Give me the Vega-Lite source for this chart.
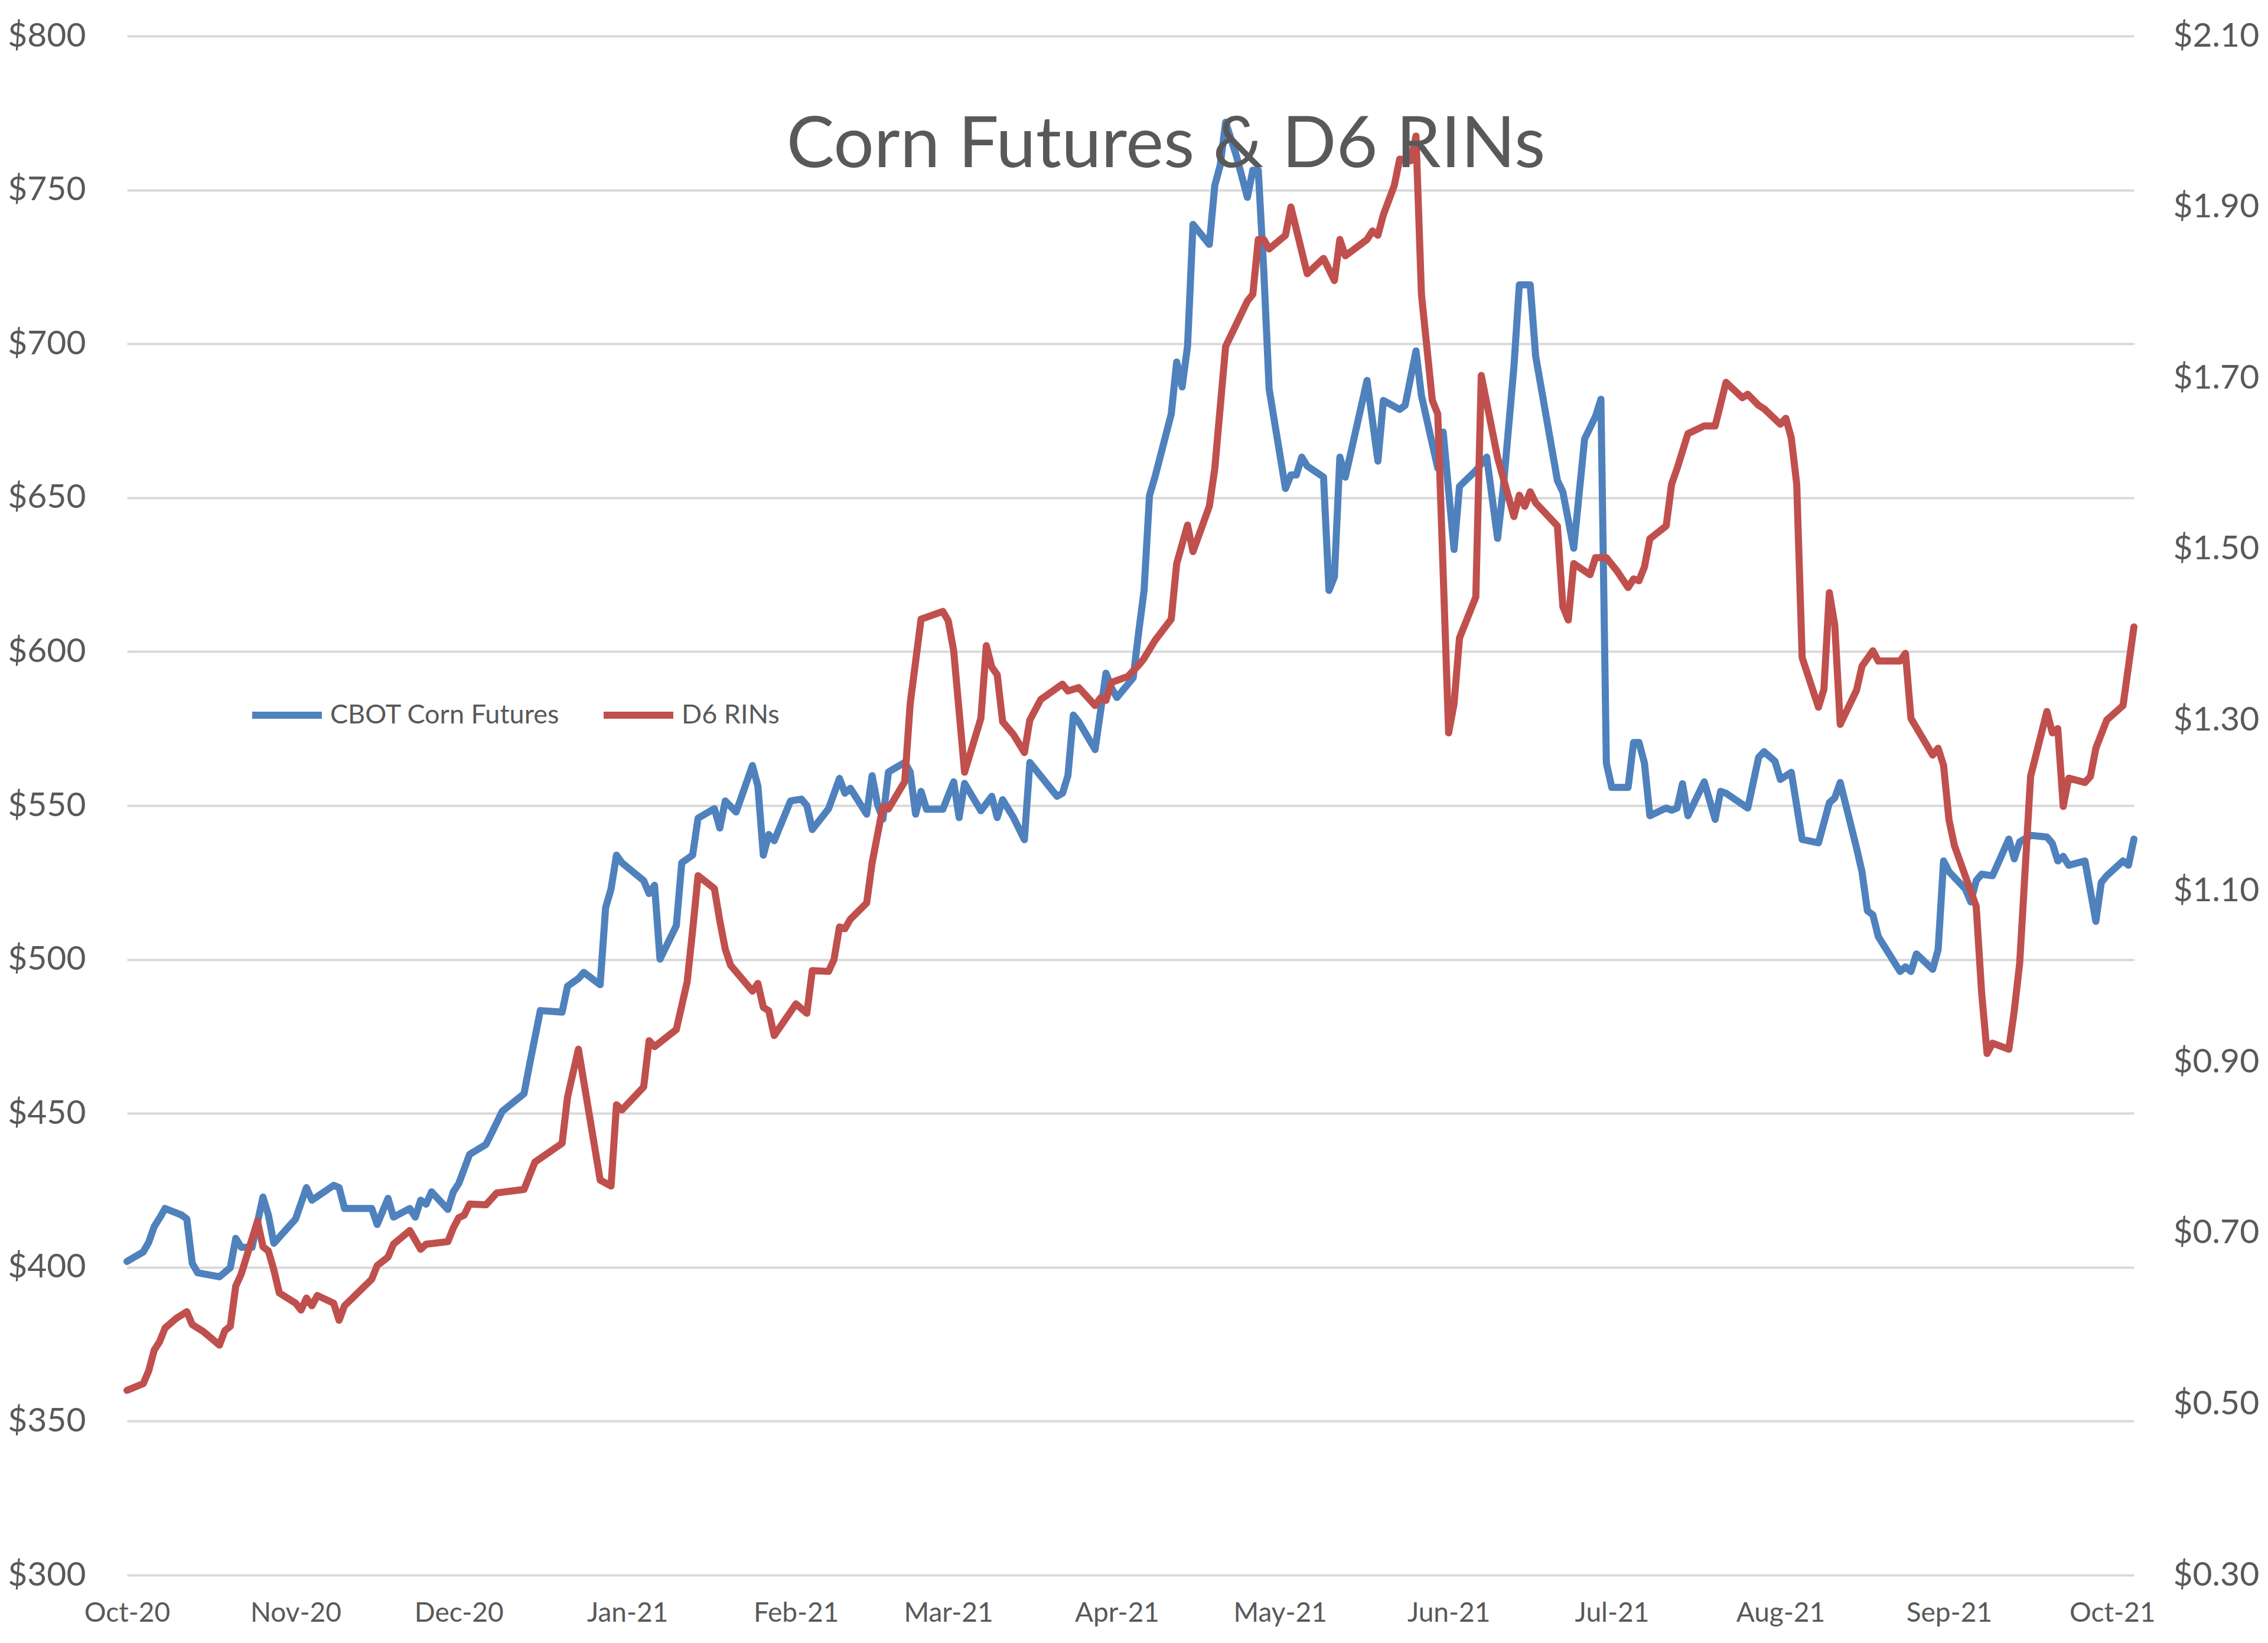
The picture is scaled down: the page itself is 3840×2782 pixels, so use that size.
{
"$schema": "https://vega.github.io/schema/vega-lite/v6.json",
"width": 3398, "height": 2606,
"autosize": {"type": "none"},
"padding": {"left": 215, "top": 61, "right": 227, "bottom": 115},
"background": "white",
"config": {"view": {"stroke": null}, "font": "Lato"},
"title": {"text": "Corn Futures & D6 RINs", "font": "Lato", "fontSize": 121, "fontWeight": "normal", "color": "#595959", "anchor": "middle", "frame": "group", "baseline": "alphabetic", "offset": -372, "dx": 60},
"datasets": {
"corn": [
{"date":"2020-10-01","price":401.9},{"date":"2020-10-04","price":405},{"date":"2020-10-05","price":408.1},{"date":"2020-10-06","price":413.2},{"date":"2020-10-07","price":416},{"date":"2020-10-08","price":419.1},{"date":"2020-10-11","price":417},{"date":"2020-10-12","price":415.7},{"date":"2020-10-13","price":401.3},{"date":"2020-10-14","price":398.2},{"date":"2020-10-18","price":396.9},{"date":"2020-10-20","price":399.9},{"date":"2020-10-21","price":409.4},{"date":"2020-10-22","price":406.5},{"date":"2020-10-24","price":406.5},{"date":"2020-10-26","price":422.8},{"date":"2020-10-27","price":417},{"date":"2020-10-28","price":407.8},
{"date":"2020-11-01","price":415.7},{"date":"2020-11-03","price":425.9},{"date":"2020-11-04","price":421.8},{"date":"2020-11-08","price":426.6},{"date":"2020-11-09","price":425.9},{"date":"2020-11-10","price":419.1},{"date":"2020-11-15","price":419.1},{"date":"2020-11-16","price":413.9},{"date":"2020-11-18","price":422.4},{"date":"2020-11-19","price":416.3},{"date":"2020-11-22","price":419.1},{"date":"2020-11-23","price":416.3},{"date":"2020-11-24","price":421.8},{"date":"2020-11-25","price":420.5},{"date":"2020-11-26","price":424.5},{"date":"2020-11-29","price":418.8},{"date":"2020-11-30","price":424.5},
{"date":"2020-12-01","price":427.2},{"date":"2020-12-03","price":436.7},{"date":"2020-12-06","price":439.9},{"date":"2020-12-07","price":443.4},{"date":"2020-12-09","price":450.7},{"date":"2020-12-13","price":456.4},{"date":"2020-12-14","price":465.7},{"date":"2020-12-16","price":483.4},{"date":"2020-12-20","price":482.9},{"date":"2020-12-21","price":491.3},{"date":"2020-12-23","price":493.8},{"date":"2020-12-24","price":495.8},{"date":"2020-12-27","price":491.8},{"date":"2020-12-28","price":516.8},{"date":"2020-12-29","price":522.9},{"date":"2020-12-30","price":533.9},{"date":"2020-12-31","price":531.4},
{"date":"2021-01-04","price":525.6},{"date":"2021-01-05","price":521.4},{"date":"2021-01-06","price":524.1},{"date":"2021-01-07","price":500.1},{"date":"2021-01-10","price":511},{"date":"2021-01-11","price":531.4},{"date":"2021-01-13","price":533.9},{"date":"2021-01-14","price":545.9},{"date":"2021-01-17","price":549},{"date":"2021-01-18","price":542.7},{"date":"2021-01-19","price":551.5},{"date":"2021-01-21","price":547.9},{"date":"2021-01-24","price":563},{"date":"2021-01-25","price":556.3},{"date":"2021-01-26","price":533.9},{"date":"2021-01-27","price":540.6},{"date":"2021-01-28","price":538.6},{"date":"2021-01-31","price":551.5},
{"date":"2021-02-02","price":552.1},{"date":"2021-02-03","price":550},{"date":"2021-02-04","price":542.2},{"date":"2021-02-07","price":549},{"date":"2021-02-09","price":558.8},{"date":"2021-02-10","price":554},{"date":"2021-02-11","price":555.6},{"date":"2021-02-14","price":547.2},{"date":"2021-02-15","price":559.7},{"date":"2021-02-16","price":550.3},{"date":"2021-02-17","price":545.6},{"date":"2021-02-18","price":560.9},{"date":"2021-02-21","price":564},{"date":"2021-02-22","price":560.9},{"date":"2021-02-23","price":547.2},{"date":"2021-02-24","price":554.6},{"date":"2021-02-25","price":548.8},{"date":"2021-02-28","price":548.8},
{"date":"2021-03-02","price":557.7},{"date":"2021-03-03","price":546.1},{"date":"2021-03-04","price":557.2},{"date":"2021-03-07","price":548.3},{"date":"2021-03-09","price":553},{"date":"2021-03-10","price":546.1},{"date":"2021-03-11","price":551.9},{"date":"2021-03-13","price":546.1},{"date":"2021-03-15","price":538.9},{"date":"2021-03-16","price":564},{"date":"2021-03-21","price":553},{"date":"2021-03-22","price":554},{"date":"2021-03-23","price":559.7},{"date":"2021-03-24","price":579.4},{"date":"2021-03-25","price":577.2},{"date":"2021-03-28","price":568.2},{"date":"2021-03-30","price":593},{"date":"2021-03-31","price":588.3},
{"date":"2021-04-01","price":585.1},{"date":"2021-04-04","price":591.5},{"date":"2021-04-05","price":606.2},{"date":"2021-04-06","price":619.8},{"date":"2021-04-07","price":650.7},{"date":"2021-04-08","price":656.7},{"date":"2021-04-11","price":677.2},{"date":"2021-04-12","price":694.1},{"date":"2021-04-13","price":686},{"date":"2021-04-14","price":699.3},{"date":"2021-04-15","price":738.8},{"date":"2021-04-18","price":732.3},{"date":"2021-04-19","price":751.4},{"date":"2021-04-20","price":758},{"date":"2021-04-21","price":772},{"date":"2021-04-23","price":760.9},{"date":"2021-04-25","price":747.6},{"date":"2021-04-26","price":756.4},{"date":"2021-04-27","price":756.4},{"date":"2021-04-28","price":724.2},{"date":"2021-04-29","price":685.3},
{"date":"2021-05-02","price":653},{"date":"2021-05-03","price":657.4},{"date":"2021-05-04","price":657.4},{"date":"2021-05-05","price":663.2},{"date":"2021-05-06","price":660.3},{"date":"2021-05-09","price":656.7},{"date":"2021-05-10","price":619.9},{"date":"2021-05-11","price":624.3},{"date":"2021-05-12","price":663.2},{"date":"2021-05-13","price":656.7},{"date":"2021-05-17","price":688.1},{"date":"2021-05-19","price":661.9},{"date":"2021-05-20","price":681.6},{"date":"2021-05-23","price":678.7},{"date":"2021-05-24","price":680},{"date":"2021-05-26","price":697.7},{"date":"2021-05-27","price":683.2},{"date":"2021-05-30","price":659.6},{"date":"2021-05-31","price":671.3},
{"date":"2021-06-02","price":633.2},{"date":"2021-06-03","price":653.7},{"date":"2021-06-06","price":658.8},{"date":"2021-06-08","price":663.2},{"date":"2021-06-10","price":636.8},{"date":"2021-06-11","price":652.3},{"date":"2021-06-13","price":692.4},{"date":"2021-06-14","price":719.2},{"date":"2021-06-16","price":719.2},{"date":"2021-06-17","price":696},{"date":"2021-06-21","price":655.6},{"date":"2021-06-22","price":651.9},{"date":"2021-06-24","price":633.6},{"date":"2021-06-26","price":669.1},{"date":"2021-06-28","price":676.4},{"date":"2021-06-29","price":682},{"date":"2021-06-30","price":563.8},
{"date":"2021-07-01","price":555.9},{"date":"2021-07-04","price":555.9},{"date":"2021-07-05","price":570.5},{"date":"2021-07-06","price":570.5},{"date":"2021-07-07","price":563.8},{"date":"2021-07-08","price":546.7},{"date":"2021-07-11","price":549.2},{"date":"2021-07-12","price":548.5},{"date":"2021-07-13","price":549.2},{"date":"2021-07-14","price":557.1},{"date":"2021-07-15","price":546.7},{"date":"2021-07-18","price":557.7},{"date":"2021-07-20","price":545.5},{"date":"2021-07-21","price":554.6},{"date":"2021-07-22","price":554},{"date":"2021-07-26","price":549.2},{"date":"2021-07-28","price":565.7},{"date":"2021-07-29","price":567.5},{"date":"2021-07-31","price":564.4},
{"date":"2021-08-01","price":558.5},{"date":"2021-08-03","price":560.8},{"date":"2021-08-05","price":539},{"date":"2021-08-08","price":537.9},{"date":"2021-08-10","price":550.9},{"date":"2021-08-11","price":552.5},{"date":"2021-08-12","price":557.5},{"date":"2021-08-15","price":536.2},{"date":"2021-08-16","price":528.5},{"date":"2021-08-17","price":515.8},{"date":"2021-08-18","price":514.5},{"date":"2021-08-19","price":507.4},{"date":"2021-08-23","price":496.1},{"date":"2021-08-24","price":497.6},{"date":"2021-08-25","price":496.1},{"date":"2021-08-26","price":501.8},{"date":"2021-08-29","price":496.8},{"date":"2021-08-30","price":503.2},{"date":"2021-08-31","price":532},
{"date":"2021-09-01","price":528.5},{"date":"2021-09-04","price":522.9},{"date":"2021-09-05","price":518.7},{"date":"2021-09-06","price":525.6},{"date":"2021-09-07","price":527.7},{"date":"2021-09-09","price":527.2},{"date":"2021-09-12","price":539.1},{"date":"2021-09-13","price":532.7},{"date":"2021-09-14","price":538.2},{"date":"2021-09-16","price":540.3},{"date":"2021-09-19","price":539.8},{"date":"2021-09-20","price":537.7},{"date":"2021-09-21","price":532},{"date":"2021-09-22","price":533.5},{"date":"2021-09-23","price":530.6},{"date":"2021-09-26","price":532},{"date":"2021-09-28","price":512.4},{"date":"2021-09-29","price":525},{"date":"2021-09-30","price":527.2},
{"date":"2021-10-03","price":532},{"date":"2021-10-04","price":530.6},{"date":"2021-10-05","price":539.1}
],
"rins": [
{"date":"2020-10-01","price":0.516},{"date":"2020-10-04","price":0.524},{"date":"2020-10-05","price":0.539},{"date":"2020-10-06","price":0.563},{"date":"2020-10-07","price":0.573},{"date":"2020-10-08","price":0.589},{"date":"2020-10-10","price":0.6},{"date":"2020-10-12","price":0.608},{"date":"2020-10-13","price":0.593},{"date":"2020-10-15","price":0.585},{"date":"2020-10-18","price":0.569},{"date":"2020-10-19","price":0.586},{"date":"2020-10-20","price":0.591},{"date":"2020-10-21","price":0.638},{"date":"2020-10-22","price":0.652},{"date":"2020-10-25","price":0.714},{"date":"2020-10-26","price":0.684},{"date":"2020-10-27","price":0.679},{"date":"2020-10-28","price":0.657},{"date":"2020-10-29","price":0.63},
{"date":"2020-11-01","price":0.618},{"date":"2020-11-02","price":0.61},{"date":"2020-11-03","price":0.624},{"date":"2020-11-04","price":0.615},{"date":"2020-11-05","price":0.627},{"date":"2020-11-08","price":0.618},{"date":"2020-11-09","price":0.598},{"date":"2020-11-10","price":0.615},{"date":"2020-11-15","price":0.646},{"date":"2020-11-16","price":0.662},{"date":"2020-11-17","price":0.667},{"date":"2020-11-18","price":0.672},{"date":"2020-11-19","price":0.687},{"date":"2020-11-22","price":0.703},{"date":"2020-11-24","price":0.681},{"date":"2020-11-25","price":0.687},{"date":"2020-11-29","price":0.69},{"date":"2020-11-30","price":0.706},
{"date":"2020-12-01","price":0.718},{"date":"2020-12-02","price":0.721},{"date":"2020-12-03","price":0.734},{"date":"2020-12-06","price":0.733},{"date":"2020-12-08","price":0.747},{"date":"2020-12-13","price":0.751},{"date":"2020-12-15","price":0.783},{"date":"2020-12-20","price":0.805},{"date":"2020-12-21","price":0.859},{"date":"2020-12-23","price":0.915},{"date":"2020-12-27","price":0.762},{"date":"2020-12-29","price":0.755},{"date":"2020-12-30","price":0.85},{"date":"2020-12-31","price":0.844},
{"date":"2021-01-04","price":0.871},{"date":"2021-01-05","price":0.925},{"date":"2021-01-06","price":0.918},{"date":"2021-01-10","price":0.938},{"date":"2021-01-12","price":0.994},{"date":"2021-01-13","price":1.054},{"date":"2021-01-14","price":1.118},{"date":"2021-01-17","price":1.103},{"date":"2021-01-18","price":1.065},{"date":"2021-01-19","price":1.032},{"date":"2021-01-20","price":1.013},{"date":"2021-01-24","price":0.983},{"date":"2021-01-25","price":0.992},{"date":"2021-01-26","price":0.964},{"date":"2021-01-27","price":0.96},{"date":"2021-01-28","price":0.931},
{"date":"2021-02-01","price":0.968},{"date":"2021-02-03","price":0.957},{"date":"2021-02-04","price":1.007},{"date":"2021-02-07","price":1.006},{"date":"2021-02-08","price":1.02},{"date":"2021-02-09","price":1.058},{"date":"2021-02-10","price":1.056},{"date":"2021-02-11","price":1.067},{"date":"2021-02-14","price":1.086},{"date":"2021-02-15","price":1.133},{"date":"2021-02-17","price":1.199},{"date":"2021-02-18","price":1.196},{"date":"2021-02-21","price":1.228},{"date":"2021-02-22","price":1.319},{"date":"2021-02-24","price":1.418},{"date":"2021-02-28","price":1.427},
{"date":"2021-03-01","price":1.416},{"date":"2021-03-02","price":1.381},{"date":"2021-03-04","price":1.239},{"date":"2021-03-07","price":1.302},{"date":"2021-03-08","price":1.387},{"date":"2021-03-09","price":1.362},{"date":"2021-03-10","price":1.353},{"date":"2021-03-11","price":1.298},{"date":"2021-03-13","price":1.283},{"date":"2021-03-15","price":1.262},{"date":"2021-03-16","price":1.3},{"date":"2021-03-18","price":1.324},{"date":"2021-03-22","price":1.342},{"date":"2021-03-23","price":1.334},{"date":"2021-03-25","price":1.338},{"date":"2021-03-28","price":1.317},{"date":"2021-03-29","price":1.326},{"date":"2021-03-30","price":1.323},{"date":"2021-03-31","price":1.344},
{"date":"2021-04-03","price":1.351},{"date":"2021-04-05","price":1.364},{"date":"2021-04-06","price":1.372},{"date":"2021-04-08","price":1.393},{"date":"2021-04-11","price":1.418},{"date":"2021-04-12","price":1.483},{"date":"2021-04-14","price":1.528},{"date":"2021-04-15","price":1.497},{"date":"2021-04-18","price":1.55},{"date":"2021-04-19","price":1.594},{"date":"2021-04-21","price":1.737},{"date":"2021-04-25","price":1.79},{"date":"2021-04-26","price":1.798},{"date":"2021-04-27","price":1.862},{"date":"2021-04-28","price":1.862},{"date":"2021-04-29","price":1.851},
{"date":"2021-05-02","price":1.867},{"date":"2021-05-03","price":1.9},{"date":"2021-05-06","price":1.822},{"date":"2021-05-09","price":1.84},{"date":"2021-05-11","price":1.814},{"date":"2021-05-12","price":1.862},{"date":"2021-05-13","price":1.843},{"date":"2021-05-17","price":1.862},{"date":"2021-05-18","price":1.872},{"date":"2021-05-19","price":1.867},{"date":"2021-05-20","price":1.891},{"date":"2021-05-22","price":1.925},{"date":"2021-05-23","price":1.956},{"date":"2021-05-25","price":1.954},{"date":"2021-05-26","price":1.983},{"date":"2021-05-27","price":1.798},{"date":"2021-05-29","price":1.674},{"date":"2021-05-30","price":1.658},
{"date":"2021-06-01","price":1.285},{"date":"2021-06-02","price":1.319},{"date":"2021-06-03","price":1.396},{"date":"2021-06-06","price":1.444},{"date":"2021-06-07","price":1.703},{"date":"2021-06-10","price":1.607},{"date":"2021-06-13","price":1.538},{"date":"2021-06-14","price":1.563},{"date":"2021-06-15","price":1.55},{"date":"2021-06-16","price":1.567},{"date":"2021-06-17","price":1.554},{"date":"2021-06-21","price":1.527},{"date":"2021-06-22","price":1.433},{"date":"2021-06-23","price":1.417},{"date":"2021-06-24","price":1.483},{"date":"2021-06-27","price":1.47},{"date":"2021-06-28","price":1.49},{"date":"2021-06-30","price":1.49},
{"date":"2021-07-02","price":1.474},{"date":"2021-07-04","price":1.455},{"date":"2021-07-05","price":1.465},{"date":"2021-07-06","price":1.463},{"date":"2021-07-07","price":1.479},{"date":"2021-07-08","price":1.512},{"date":"2021-07-11","price":1.527},{"date":"2021-07-12","price":1.576},{"date":"2021-07-13","price":1.594},{"date":"2021-07-15","price":1.635},{"date":"2021-07-18","price":1.644},{"date":"2021-07-20","price":1.644},{"date":"2021-07-22","price":1.695},{"date":"2021-07-25","price":1.677},{"date":"2021-07-26","price":1.681},{"date":"2021-07-28","price":1.668},{"date":"2021-07-29","price":1.664},
{"date":"2021-08-01","price":1.646},{"date":"2021-08-02","price":1.653},{"date":"2021-08-03","price":1.63},{"date":"2021-08-04","price":1.576},{"date":"2021-08-05","price":1.373},{"date":"2021-08-08","price":1.315},{"date":"2021-08-09","price":1.336},{"date":"2021-08-10","price":1.449},{"date":"2021-08-11","price":1.411},{"date":"2021-08-12","price":1.295},{"date":"2021-08-15","price":1.335},{"date":"2021-08-16","price":1.363},{"date":"2021-08-18","price":1.381},{"date":"2021-08-19","price":1.369},{"date":"2021-08-23","price":1.369},{"date":"2021-08-24","price":1.378},{"date":"2021-08-25","price":1.302},{"date":"2021-08-29","price":1.259},{"date":"2021-08-30","price":1.267},{"date":"2021-08-31","price":1.247},
{"date":"2021-09-01","price":1.183},{"date":"2021-09-02","price":1.153},{"date":"2021-09-06","price":1.082},{"date":"2021-09-07","price":0.981},{"date":"2021-09-08","price":0.91},{"date":"2021-09-09","price":0.922},{"date":"2021-09-12","price":0.915},{"date":"2021-09-13","price":0.96},{"date":"2021-09-14","price":1.016},{"date":"2021-09-16","price":1.234},{"date":"2021-09-19","price":1.31},{"date":"2021-09-20","price":1.285},{"date":"2021-09-21","price":1.29},{"date":"2021-09-22","price":1.199},{"date":"2021-09-23","price":1.232},{"date":"2021-09-26","price":1.227},{"date":"2021-09-27","price":1.234},{"date":"2021-09-28","price":1.267},{"date":"2021-09-30","price":1.3},
{"date":"2021-10-03","price":1.317},{"date":"2021-10-05","price":1.409}
]
},
"layer": [
{
"data": {"name": "corn"},
"mark": {"type": "line", "strokeWidth": 12, "strokeCap": "round", "strokeJoin": "round"},
"encoding": {
"x": {"field": "date", "type": "temporal",
"scale": {"type": "utc", "domain": [{"year": 2020, "month": 10, "date": 1, "utc": true}, {"year": 2021, "month": 10, "date": 5, "utc": true}]},
"axis": {"orient": "bottom", "title": null, "format": "%b-%y", "tickCount": {"interval": "month", "step": 1}, "grid": false, "domain": false, "ticks": false, "labelFont": "Lato", "labelFontSize": 46, "labelColor": "#595959", "labelPadding": 42, "labelFlush": false}},
"y": {"field": "price", "type": "quantitative",
"scale": {"domain": [300, 800], "nice": false, "zero": false},
"axis": {"orient": "left", "title": null, "values": [300, 350, 400, 450, 500, 550, 600, 650, 700, 750, 800], "format": "$.0f", "grid": true, "gridColor": "#D9D9D9", "gridWidth": 4, "domain": false, "ticks": false, "labelFont": "Lato", "labelFontSize": 57, "labelColor": "#595959", "labelPadding": 70}},
"color": {"datum": "CBOT Corn Futures", "type": "nominal",
"scale": {"domain": ["CBOT Corn Futures", "D6 RINs"], "range": ["#4F81BD", "#C0504D"]},
"legend": {"title": null, "orient": "none", "direction": "horizontal", "legendX": 206, "legendY": 1085, "symbolType": "stroke", "symbolSize": 13924, "symbolStrokeWidth": 12, "labelFont": "Lato", "labelFontSize": 45, "labelColor": "#595959", "labelOffset": 8, "labelLimit": 0, "columnPadding": 50, "padding": 0}}
}
},
{
"data": {"name": "rins"},
"mark": {"type": "line", "strokeWidth": 12, "strokeCap": "round", "strokeJoin": "round"},
"encoding": {
"x": {"field": "date", "type": "temporal"},
"y": {"field": "price", "type": "quantitative",
"scale": {"domain": [0.3, 2.1], "nice": false, "zero": false},
"axis": {"orient": "right", "title": null, "values": [0.3, 0.5, 0.7, 0.9, 1.1, 1.3, 1.5, 1.7, 1.9, 2.1], "format": "$.2f", "grid": false, "domain": false, "ticks": false, "labelFont": "Lato", "labelFontSize": 57, "labelColor": "#595959", "labelPadding": 66}},
"color": {"datum": "D6 RINs", "type": "nominal"}
}
}
],
"resolve": {"scale": {"y": "independent"}}
}
